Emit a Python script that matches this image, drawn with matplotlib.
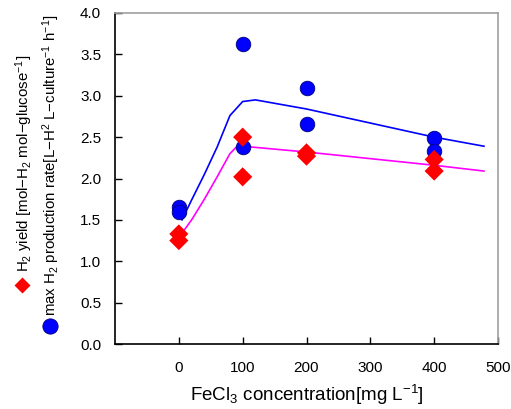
import matplotlib
matplotlib.use("Agg")
import matplotlib.pyplot as plt
from matplotlib.lines import Line2D

plt.rcParams['font.family'] = ['Liberation Sans', 'DejaVu Sans']
plt.rcParams['mathtext.fontset'] = 'custom'
plt.rcParams['mathtext.rm'] = 'Liberation Sans'
plt.rcParams['mathtext.it'] = 'Liberation Sans'

# data
rate_x = [0, 0, 100, 100, 200, 200, 400, 400]
rate_y = [1.65, 1.60, 3.62, 2.38, 3.09, 2.66, 2.49, 2.33]
yield_x = [0, 0, 100, 100, 200, 200, 400, 400]
yield_y = [1.33, 1.25, 2.50, 2.02, 2.31, 2.27, 2.23, 2.09]

rate_fit_x = [5, 20, 40, 60, 80, 100, 120, 200, 300, 400, 478]
rate_fit_y = [1.50, 1.74, 2.05, 2.38, 2.76, 2.93, 2.95, 2.84, 2.67, 2.50, 2.39]
yield_fit_x = [6, 20, 40, 60, 80, 90, 100, 200, 300, 400, 478]
yield_fit_y = [1.35, 1.50, 1.75, 2.02, 2.30, 2.38, 2.39, 2.32, 2.24, 2.16, 2.09]

fig = plt.figure(figsize=(5.11, 4.09), dpi=100)
ax = fig.add_axes([115/511, 1-344/409, (498-115)/511, (344-13)/409])

ax.plot(rate_fit_x, rate_fit_y, color='#0000ff', lw=1.2, zorder=2)
ax.plot(yield_fit_x, yield_fit_y, color='#ff00ff', lw=1.2, zorder=2)
ax.scatter(rate_x, rate_y, s=110, marker='o', color='#0000ff', edgecolors='#000080', linewidths=0.6, zorder=3)
ax.scatter(yield_x, yield_y, s=95, marker='D', color='#ff0000', edgecolors='none', zorder=4)

ax.set_xlim(-100, 500)
ax.set_ylim(0, 4.0)
ax.set_xticks([0, 100, 200, 300, 400, 500])
ax.set_yticks([0, 0.5, 1.0, 1.5, 2.0, 2.5, 3.0, 3.5, 4.0])
ax.set_yticklabels(['0.0', '0.5', '1.0', '1.5', '2.0', '2.5', '3.0', '3.5', '4.0'])
ax.tick_params(direction='in', length=5, labelsize=11, pad=12, width=1)
ax.tick_params(axis='y', pad=10)
for s in ['left', 'bottom']:
    ax.spines[s].set_linewidth(1.2)
    ax.spines[s].set_color('black')
for s in ['top', 'right']:
    ax.spines[s].set_linewidth(1.2)
    ax.spines[s].set_color('#a0a0a0')

ax.set_xlabel(r'FeCl$_3$ concentration[mg L$^{-1}$]', fontsize=13.5, labelpad=6)

# rotated legend on the left
fig.text(24/511, 1-272/409, r'H$_2$ yield [mol$-$H$_2$ mol$-$glucose$^{-1}$]',
         rotation=90, ha='center', va='bottom', fontsize=10.8)
fig.text(51/511, 1-316/409, r'max H$_2$ production rate[L$-$H$^2$ L$-$culture$^{-1}$ h$^{-1}$]',
         rotation=90, ha='center', va='bottom', fontsize=10.8)
fig.add_artist(Line2D([22/511], [1-285/409], marker='D', color='#ff0000', markersize=8,
                      markeredgecolor='none', transform=fig.transFigure))
fig.add_artist(Line2D([50/511], [1-326/409], marker='o', color='#0000ff', markersize=11,
                      markeredgecolor='#000080', markeredgewidth=0.6, transform=fig.transFigure))

fig.savefig('out.png', dpi=100)
